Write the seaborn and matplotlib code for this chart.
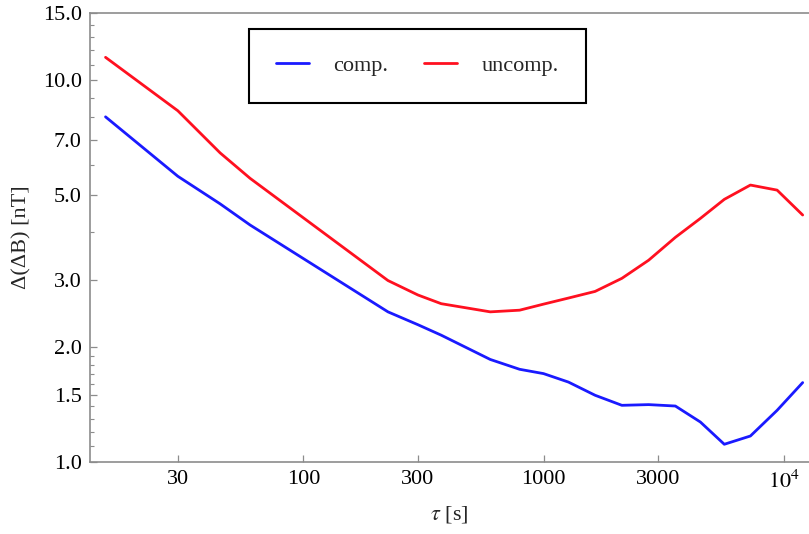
import pandas as pd
import matplotlib
matplotlib.use("Agg")
import matplotlib.pyplot as plt
import matplotlib.ticker as mticker
import seaborn as sns

# averaging times (s) and deviation values (nT)
tau = [15, 30, 45, 60, 225, 300, 375, 600, 795, 1000, 1270, 1640,
       2120, 2740, 3540, 4500, 5660, 7270, 9390, 12000]
comp = [8.03, 5.61, 4.75, 4.18, 2.475, 2.29, 2.15, 1.857, 1.75, 1.705, 1.62, 1.496,
        1.408, 1.414, 1.402, 1.273, 1.113, 1.170, 1.366, 1.615]
uncomp = [11.5, 8.33, 6.46, 5.54, 2.99, 2.74, 2.60, 2.475, 2.50, 2.593, 2.69, 2.80,
          3.03, 3.38, 3.88, 4.35, 4.88, 5.32, 5.16, 4.44]

y_major = [1.0, 1.5, 2.0, 3.0, 5.0, 7.0, 10.0, 15.0]
y_minor = [1.1, 1.2, 1.3, 1.4, 1.6, 1.7, 1.8, 1.9, 4, 6, 8, 9, 11, 12, 13, 14]
x_major = [30, 100, 300, 1000, 3000, 10000]
x_labels = ["30", "100", "300", "1000", "3000", "$10^4$"]

sns.set_theme(style="ticks")
plt.rcParams['font.family'] = ['Liberation Serif', 'DejaVu Serif']
plt.rcParams['mathtext.fontset'] = 'stix'

df = pd.concat([
    pd.DataFrame({'tau': tau, 'dev': comp, 'series': 'comp.'}),
    pd.DataFrame({'tau': tau, 'dev': uncomp, 'series': 'uncomp.'}),
])

fig = plt.figure(figsize=(8.09, 5.34), dpi=100)
ax = fig.add_axes([0.1112, 0.1348, 0.8888, 0.8403])

sns.lineplot(data=df, x='tau', y='dev', hue='series', sort=False,
             palette={'comp.': '#1a1aff', 'uncomp.': '#ff1020'},
             linewidth=2.0, ax=ax, legend=False)

ax.set_xscale('log')
ax.set_yscale('log')
ax.set_xlim(12.92, 12750)
ax.set_ylim(1.0, 15.0)

ax.xaxis.set_major_locator(mticker.FixedLocator(x_major))
ax.xaxis.set_major_formatter(mticker.FixedFormatter(x_labels))
ax.xaxis.set_minor_locator(mticker.NullLocator())
ax.yaxis.set_major_locator(mticker.FixedLocator(y_major))
ax.yaxis.set_major_formatter(mticker.FixedFormatter([f"{v:.1f}" for v in y_major]))
ax.yaxis.set_minor_locator(mticker.FixedLocator(y_minor))
ax.yaxis.set_minor_formatter(mticker.NullFormatter())

grey = '#8c8c8c'
for side in ['left', 'bottom', 'top']:
    ax.spines[side].set_color(grey)
    ax.spines[side].set_linewidth(1.2)
ax.spines['right'].set_visible(False)
ax.tick_params(which='both', direction='in', color=grey, labelsize=16,
               labelcolor='black')
ax.tick_params(which='major', length=5, width=0.9, pad=6)
ax.tick_params(which='minor', length=3, width=0.8)

ax.set_xlabel(r'$\tau$ [s]', fontsize=16, labelpad=8)
ax.set_ylabel('Δ(ΔB) [nT]', fontsize=16, labelpad=8)

handles = [plt.Line2D([], [], color='#1a1aff', lw=2.0),
           plt.Line2D([], [], color='#ff1020', lw=2.0)]
leg = ax.legend(handles, ['comp.', 'uncomp.'], ncol=2, loc='upper center',
                bbox_to_anchor=(0.4555, 0.965), borderaxespad=0, fontsize=16,
                frameon=True, fancybox=False, borderpad=1.2, handlelength=1.5,
                handletextpad=1.1, columnspacing=1.6)
leg.get_frame().set_edgecolor('black')
leg.get_frame().set_linewidth(1.5)
leg.get_frame().set_alpha(1)

fig.savefig('out.png', dpi=100)
